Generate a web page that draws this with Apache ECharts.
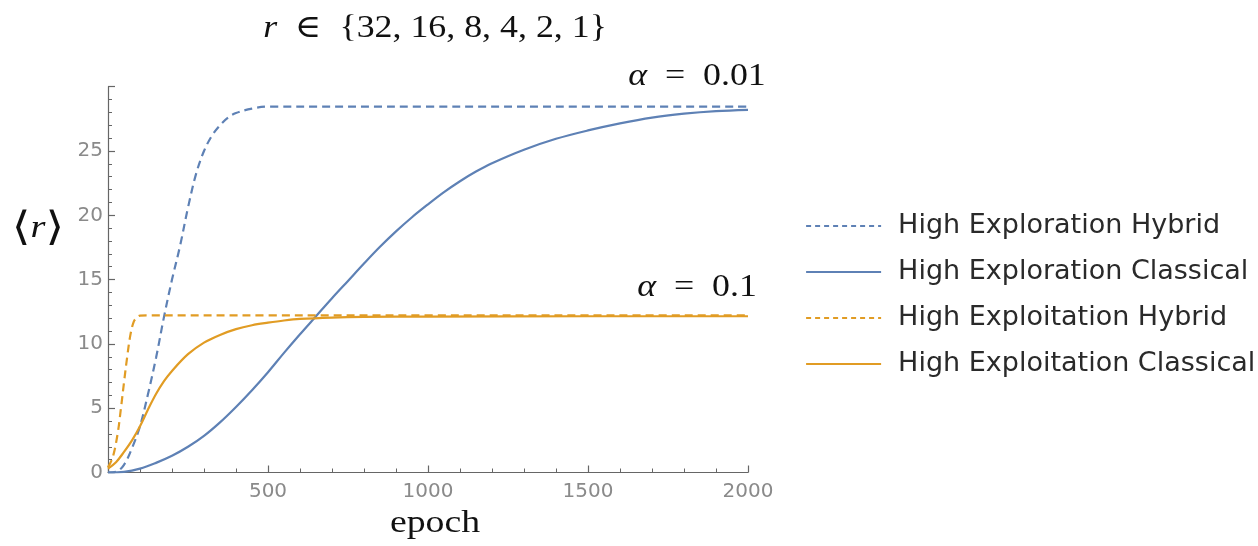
<!DOCTYPE html>
<html>
<head>
<meta charset="utf-8">
<script src="https://cdn.jsdelivr.net/npm/echarts@6/dist/echarts.min.js"></script>
<style>
html,body{margin:0;padding:0;background:#fff;}
#chart{width:1258px;height:546px;}
</style>
</head>
<body>
<div id="chart"></div>
<script>
// ---- data ----
const seriesNames = ['High Exploration Hybrid', 'High Exploration Classical', 'High Exploitation Hybrid', 'High Exploitation Classical'];

const exploreHybridEpoch = [0, 25, 50, 75, 100, 125, 150, 175, 200, 225, 250, 275, 300, 325, 350, 375, 400, 450, 500, 1000, 1500, 2000];
const exploreHybridValue = [0, 0.05, 0.6, 1.9, 3.6, 6.1, 8.9, 12.1, 15.0, 17.6, 20.6, 23.2, 25.0, 26.2, 27.0, 27.6, 27.95, 28.3, 28.45, 28.45, 28.45, 28.45];

const exploreClassicalEpoch = [0, 50, 100, 150, 200, 250, 300, 350, 400, 450, 500, 550, 600, 650, 700, 750, 800, 850, 900, 950, 1000, 1050, 1100, 1150, 1200, 1300, 1400, 1500, 1600, 1700, 1800, 1900, 2000];
const exploreClassicalValue = [0, 0.05, 0.3, 0.75, 1.3, 2.0, 2.85, 3.9, 5.1, 6.4, 7.8, 9.3, 10.75, 12.15, 13.55, 14.9, 16.25, 17.55, 18.75, 19.85, 20.85, 21.8, 22.65, 23.4, 24.05, 25.1, 25.95, 26.6, 27.15, 27.6, 27.9, 28.1, 28.2];

const exploitHybridEpoch = [0, 15, 30, 40, 50, 60, 70, 80, 90, 100, 120, 500, 1000, 1500, 2000];
const exploitHybridValue = [0.4, 1.2, 3.0, 4.9, 7.0, 9.0, 10.7, 11.7, 12.05, 12.2, 12.22, 12.22, 12.22, 12.22, 12.22];

const exploitClassicalEpoch = [0, 25, 50, 75, 100, 125, 150, 175, 200, 250, 300, 350, 400, 450, 500, 550, 600, 700, 800, 1000, 1500, 2000];
const exploitClassicalValue = [0.3, 0.8, 1.6, 2.5, 3.6, 4.9, 6.1, 7.1, 7.9, 9.2, 10.1, 10.7, 11.15, 11.45, 11.65, 11.82, 11.94, 12.05, 12.1, 12.12, 12.15, 12.15];

const titleText = '{i|r}  ∈  {32, 16, 8, 4, 2, 1}';
const alphaHigh = '{i|α}  =  0.01';
const alphaLow = '{i|α}  =  0.1';
const yAxisTitle = '{b|⟨}{i|r}{b|⟩}';
const xAxisTitle = 'epoch';

// ---- build ----
function pairs(xs, ys) { return xs.map((x, i) => [x, ys[i]]); }
const BLUE = '#5E81B5';
const ORANGE = '#E19C24';
const SERIF = '"Liberation Serif", "DejaVu Serif", serif';
const SANS = '"DejaVu Sans", sans-serif';

function lineSeries(name, data, color, dashed) {
  return {
    name: name,
    type: 'line',
    data: data,
    showSymbol: false,
    symbol: 'none',
    smooth: 0.35,
    lineStyle: { color: color, width: 2.2, type: dashed ? [8, 5] : 'solid' },
    itemStyle: { color: color },
    emphasis: { disabled: true },
    z: 3
  };
}

const chart = echarts.init(document.getElementById('chart'), null, { renderer: 'canvas' });

function serifText(text, x, y, sx) {
  return {
    type: 'text',
    x: x, y: y,
    scaleX: sx || 1.15,
    style: {
      text: text,
      font: '32px ' + SERIF,
      fill: '#111',
      align: 'center',
      verticalAlign: 'middle',
      rich: {
        i: { fontStyle: 'italic', fontSize: 32, fontFamily: SERIF, fill: '#111' },
        b: { fontSize: 40, fontFamily: SERIF, fill: '#111' }
      }
    },
    silent: true
  };
}

const legendData = seriesNames.map((n, i) => ({
  name: n,
  lineStyle: { type: i % 2 === 0 ? [5, 4] : 'solid', width: 2.2 }
}));

const option = {
  animation: false,
  backgroundColor: '#fff',
  grid: { left: 108, right: 510, top: 86.7, bottom: 73.5, containLabel: false },
  xAxis: {
    type: 'value',
    min: 0, max: 2000, interval: 500,
    axisLine: { show: true, lineStyle: { color: '#666', width: 1.2 } },
    axisTick: { show: true, inside: true, length: 7, lineStyle: { color: '#666', width: 1.2 } },
    minorTick: { show: true, splitNumber: 5, length: 4, lineStyle: { color: '#666', width: 1 } },
    splitLine: { show: false },
    axisLabel: {
      color: '#8a8a8a', fontFamily: SANS, fontSize: 20, margin: 9,
      formatter: v => (v === 0 ? '' : String(v))
    }
  },
  yAxis: {
    type: 'value',
    min: 0, max: 30, interval: 5,
    axisLine: { show: true, lineStyle: { color: '#666', width: 1.2 } },
    axisTick: { show: true, inside: true, length: 7, lineStyle: { color: '#666', width: 1.2 } },
    minorTick: { show: true, splitNumber: 5, length: 4, lineStyle: { color: '#666', width: 1 } },
    splitLine: { show: false },
    axisLabel: {
      color: '#8a8a8a', fontFamily: SANS, fontSize: 20, margin: 5,
      formatter: v => (v === 30 ? '' : String(v))
    }
  },
  legend: {
    orient: 'vertical',
    left: 805,
    top: 211,
    padding: 0,
    itemWidth: 75,
    itemHeight: 14,
    itemGap: 16,
    data: legendData,
    itemStyle: { color: 'transparent', borderWidth: 0, opacity: 0 },
    textStyle: { fontFamily: SANS, fontSize: 27, color: '#2a2a2a', lineHeight: 30, padding: [0, 0, 0, 12] },
    selectedMode: false
  },
  series: [
    lineSeries(seriesNames[0], pairs(exploreHybridEpoch, exploreHybridValue), BLUE, true),
    lineSeries(seriesNames[1], pairs(exploreClassicalEpoch, exploreClassicalValue), BLUE, false),
    lineSeries(seriesNames[2], pairs(exploitHybridEpoch, exploitHybridValue), ORANGE, true),
    lineSeries(seriesNames[3], pairs(exploitClassicalEpoch, exploitClassicalValue), ORANGE, false)
  ],
  graphic: [
    serifText(titleText, 435, 29, 1.12),
    serifText(alphaHigh, 697, 77, 1.12),
    serifText(alphaLow, 697, 288, 1.12),
    serifText(yAxisTitle, 38, 229, 1.2),
    serifText(xAxisTitle, 435, 524, 1.18)
  ]
};
chart.setOption(option);
</script>
</body>
</html>
